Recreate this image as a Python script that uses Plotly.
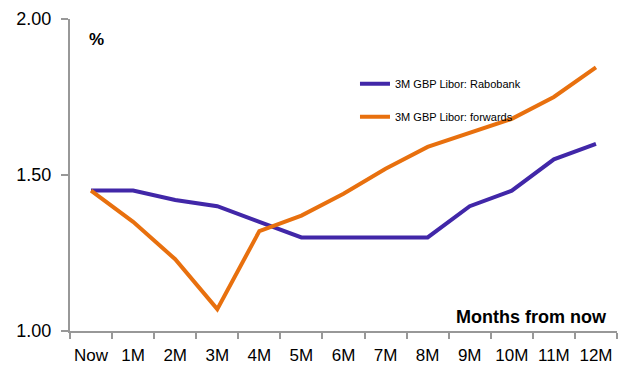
import plotly.graph_objects as go

categories = ["Now", "1M", "2M", "3M", "4M", "5M", "6M", "7M", "8M", "9M", "10M", "11M", "12M"]
rabobank = [1.45, 1.45, 1.42, 1.40, 1.35, 1.30, 1.30, 1.30, 1.30, 1.40, 1.45, 1.55, 1.60]
forwards = [1.45, 1.35, 1.23, 1.07, 1.32, 1.37, 1.44, 1.52, 1.59, 1.635, 1.68, 1.75, 1.845]
y_ticks = [1.0, 1.5, 2.0]
y_tick_labels = ["1.00", "1.50", "2.00"]

FONT = "Liberation Sans, Arial, sans-serif"
AXIS_COLOR = "#989898"

fig = go.Figure()
fig.add_trace(go.Scatter(
    x=categories, y=rabobank, mode="lines", name="3M GBP Libor: Rabobank",
    line=dict(color="#4127A8", width=4), legendgroup="a"))
fig.add_trace(go.Scatter(
    x=categories, y=forwards, mode="lines", name="3M GBP Libor: forwards",
    line=dict(color="#E8700E", width=4), legendgroup="b"))

fig.update_layout(
    width=627, height=367,
    margin=dict(l=70, r=10, t=19, b=36),
    paper_bgcolor="white", plot_bgcolor="white",
    font=dict(family=FONT, color="black", size=17),
    showlegend=True,
    legend=dict(x=0.521, y=0.839, xanchor="left", yanchor="top",
                bgcolor="rgba(0,0,0,0)", font=dict(size=11),
                tracegroupgap=14),
    xaxis=dict(type="category", range=[-0.5, 12.5], tickson="boundaries",
               showline=True, linecolor=AXIS_COLOR, linewidth=2,
               ticks="outside", ticklen=6, tickwidth=2, tickcolor=AXIS_COLOR,
               showgrid=False, zeroline=False, ticklabelstandoff=8,
               tickangle=0, automargin=False,
               tickfont=dict(size=17)),
    yaxis=dict(range=[1.0, 2.0], tickvals=y_ticks, ticktext=y_tick_labels,
               showline=True, linecolor=AXIS_COLOR, linewidth=2,
               ticks="outside", ticklen=7, tickwidth=2, tickcolor=AXIS_COLOR,
               showgrid=False, zeroline=False, ticklabelstandoff=6,
               automargin=False, tickfont=dict(size=18)),
    annotations=[
        dict(text="<b>%</b>", xref="paper", yref="paper", x=0.031, y=0.933,
             xanchor="left", yanchor="middle", showarrow=False,
             font=dict(size=17)),
        dict(text="<b>Months from now</b>", xref="paper", yref="paper",
             x=0.9854, y=0.045, xanchor="right", yanchor="middle",
             showarrow=False, font=dict(size=18)),
    ],
)

fig.write_html("out.html")
